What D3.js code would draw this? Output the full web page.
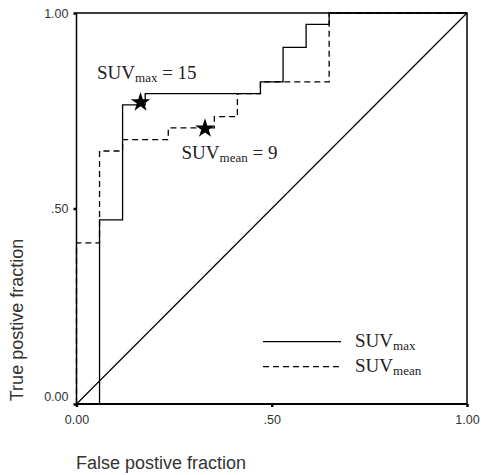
<!DOCTYPE html>
<html><head><meta charset="utf-8">
<script src="https://cdn.jsdelivr.net/npm/d3@7"></script>
<style>body{margin:0;background:#fff}</style>
</head><body>
<svg id="c" width="481" height="475"></svg>
<script>
// ---- data ----
const suvMaxFpf  = [0, 0.059, 0.118, 0.176, 0.471, 0.529, 0.588, 0.647, 1];
const suvMaxTpf  = [0, 0.471, 0.765, 0.794, 0.824, 0.912, 0.971, 1, 1];
const suvMeanFpf = [0, 0, 0.059, 0.118, 0.235, 0.353, 0.412, 0.471, 0.647, 1];
const suvMeanTpf = [0, 0.412, 0.647, 0.676, 0.706, 0.735, 0.794, 0.824, 1, 1];
const cutoffFpf  = [0.164, 0.329];
const cutoffTpf  = [0.774, 0.707];
const cutoffLabels = [["SUV","max"," = 15"],["SUV","mean"," = 9"]];
const tickValues = [0, 0.5, 1];
const tickLabels = ["0.00", ".50", "1.00"];
const legendNames = [["SUV","max"],["SUV","mean"]];
const xTitle = "False postive fraction";
const yTitle = "True postive fraction";

const svg = d3.select("#c");
const x = d3.scaleLinear().domain([0,1]).range([76.5, 467]);
const y = d3.scaleLinear().domain([0,1]).range([404, 13]);
const sans = "'Liberation Sans', Arial, sans-serif";
const serif = "'Liberation Serif', 'Times New Roman', serif";

// diagonal
svg.append("line").attr("x1", x(0)).attr("y1", y(0)).attr("x2", x(1)).attr("y2", y(1))
  .attr("stroke", "#000").attr("stroke-width", 1.2);

const line = d3.line().curve(d3.curveStepAfter).x(d => x(d[0])).y(d => y(d[1]));
svg.append("path").datum(d3.zip(suvMeanFpf, suvMeanTpf)).attr("d", line)
  .attr("fill", "none").attr("stroke", "#000").attr("stroke-width", 1.3).attr("stroke-dasharray", "6,4");
svg.append("path").datum(d3.zip(suvMaxFpf, suvMaxTpf)).attr("d", line)
  .attr("fill", "none").attr("stroke", "#000").attr("stroke-width", 1.3);

// frame
svg.append("rect").attr("x", x(0)).attr("y", y(1)).attr("width", x(1)-x(0)).attr("height", y(0)-y(1))
  .attr("fill", "none").attr("stroke", "#000").attr("stroke-width", 1.5);
svg.append("line").attr("x1", x(0)).attr("x2", x(1)).attr("y1", y(0)).attr("y2", y(0))
  .attr("stroke", "#000").attr("stroke-width", 2.2);

// axes
const xAxis = d3.axisBottom(x).tickValues(tickValues).tickSize(3).tickFormat((d,i) => tickLabels[i]);
const gx = svg.append("g").attr("transform", `translate(0,${y(0)})`).call(xAxis);
gx.select(".domain").remove();
gx.selectAll(".tick line").attr("stroke-width", 2.5);
gx.selectAll(".tick text").attr("font-family", sans).attr("font-size", 12.5).attr("fill", "#333").attr("dy", "1.15em");

const yAxis = d3.axisLeft(y).tickValues(tickValues).tickSize(3).tickFormat((d,i) => tickLabels[i]);
const gy = svg.append("g").attr("transform", `translate(${x(0)},0)`).call(yAxis);
gy.select(".domain").remove();
gy.selectAll(".tick line").attr("stroke-width", 2.5);
gy.selectAll(".tick text").attr("font-family", sans).attr("font-size", 12.5).attr("fill", "#333")
  .attr("x", -8).attr("dy", (d) => d === 0 ? "-0.3em" : "0.35em");

// titles
svg.append("text").attr("x", 76).attr("y", 468.5).attr("font-family", sans).attr("font-size", 18)
  .attr("fill", "#333").text(xTitle);
svg.append("text").attr("transform", "translate(23,320) rotate(-90)").attr("text-anchor", "middle")
  .attr("font-family", sans).attr("font-size", 18).attr("fill", "#333").text(yTitle);

// stars
svg.selectAll(".star").data(d3.zip(cutoffFpf, cutoffTpf)).join("path").attr("class", "star")
  .attr("d", d3.symbol(d3.symbolStar, 118)())
  .attr("transform", d => `translate(${x(d[0])},${y(d[1]) + 1})`).attr("fill", "#000");

// subscripted serif labels
function subLabel(g, parts, px, py) {
  const t = g.append("text").attr("x", px).attr("y", py).attr("font-family", serif)
    .attr("font-size", 19).attr("fill", "#222");
  t.append("tspan").text(parts[0]);
  t.append("tspan").attr("font-size", 13).attr("dy", 3).text(parts[1]);
  if (parts[2]) t.append("tspan").attr("dy", -3).text(parts[2]);
}
const labelPos = [[97, 78.5], [181.5, 159]];
cutoffLabels.forEach((p, i) => subLabel(svg, p, labelPos[i][0], labelPos[i][1]));

// legend
const lg = svg.append("g");
[0,1].forEach(i => {
  const ly = 341.7 + i * 25;
  lg.append("line").attr("x1", 263).attr("x2", 341).attr("y1", ly).attr("y2", ly)
    .attr("stroke", "#000").attr("stroke-width", 1.3).attr("stroke-dasharray", i ? "6,4" : null);
  subLabel(lg, legendNames[i], 355, ly + 5);
});
</script>
</body></html>
